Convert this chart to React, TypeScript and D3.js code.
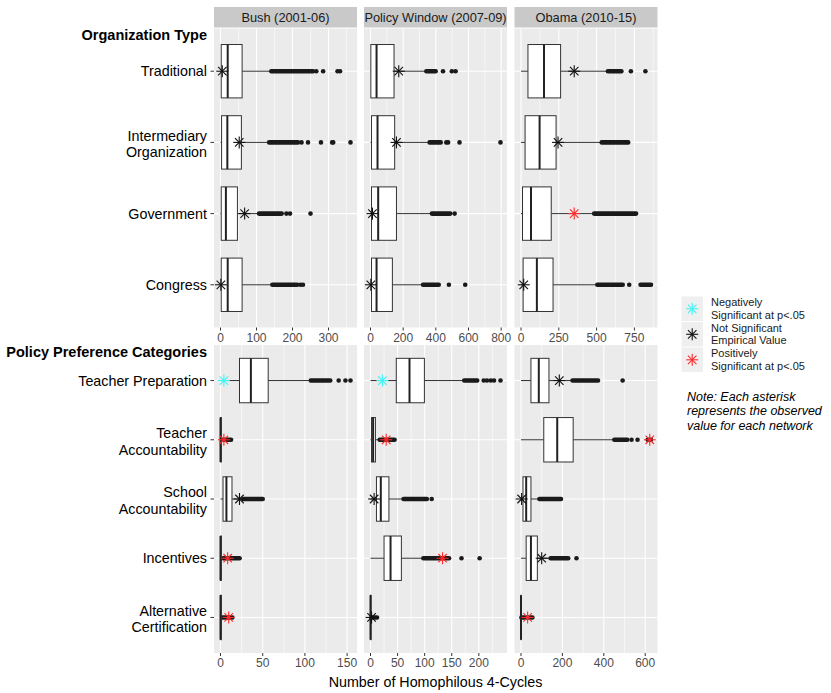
import React from 'react';
import * as d3 from 'd3';

// facet columns
const periods = ['Bush (2001-06)', 'Policy Window (2007-09)', 'Obama (2010-15)'];

// ---- top block: organization type ----
const orgTypes = ['Traditional', 'Intermediary\nOrganization', 'Government', 'Congress'];
// period -> category -> [lower whisker, q1, median, q3, upper whisker]
const orgBoxes = [
  [[0, 2, 20, 60, 141], [0, 3, 19, 58, 135], [0, 2, 15, 47, 107], [0, 2, 20, 60, 144]],
  [[0, 2, 37, 144, 342], [0, 6, 43, 148, 362], [0, 6, 47, 159, 376], [0, 6, 37, 134, 322]],
  [[0, 46, 152, 262, 573], [0, 27, 123, 232, 534], [0, 10, 66, 200, 484], [0, 14, 105, 212, 505]],
];
// dense outlier clusters (start, end)
const orgRuns = [
  [[[141, 257]], [[135, 215]], [[107, 170]], [[144, 213]]],
  [[[342, 399]], [[362, 430]], [[376, 488]], [[322, 418]]],
  [[[575, 664]], [[534, 709]], [[484, 761]], [[505, 673], [791, 860]]],
];
const orgDots = [
  [[266, 285, 325, 332], [225, 243, 279, 310, 313, 361], [183, 193, 250], [222, 229]],
  [[444, 498, 521], [464, 475, 545, 796], [515], [480, 580]],
  [[727, 823], [], [], [716]],
];
const orgObserved = [
  [5, 52, 67, 1],
  [173, 159, 12, 2],
  [352, 245, 352, 18],
];
// -1 negatively significant, 0 not significant, 1 positively significant
const orgSignif = [
  [0, 0, 0, 0],
  [0, 0, 0, 0],
  [0, 0, 1, 0],
];
const orgTicks = [[0, 100, 200, 300], [0, 200, 400, 600, 800], [0, 250, 500, 750]];

// ---- bottom block: policy preference categories ----
const policyCats = [
  'Teacher Preparation',
  'Teacher\nAccountability',
  'School\nAccountability',
  'Incentives',
  'Alternative\nCertification',
];
const polBoxes = [
  [[0, 22.5, 36, 56.5, 107], [0, 0, 0, 1, 1.5], [0, 3, 7, 13.6, 27], [0, 0, 0, 1, 2], [0, 0, 0, 1, 1.5]],
  [[0, 47.6, 72, 99.5, 172], [0, 1.8, 4.8, 9.1, 17], [0, 11, 19, 34, 61], [0, 25, 37, 57, 97], [0, 0, 0, 1, 2]],
  [[0, 48, 86, 135, 249], [0, 110, 175, 252, 451], [0, 9.6, 25, 48, 89], [0, 25, 48, 79, 143], [0, 0, 0, 1, 2]],
];
const polRuns = [
  [[[107, 130]], [[2, 12.5]], [[27, 50]], [[3, 22.6]], [[2, 14]]],
  [[[173, 197]], [[17, 44.5]], [[61, 104]], [[97.6, 145]], [[2, 12]]],
  [[[249, 372]], [[451, 513]], [[89, 193]], [[143, 228]], [[2, 55]]],
];
const polDots = [
  [[140, 148, 154], [], [], [], []],
  [[209, 215, 222, 228, 240], [], [113], [168, 201.5], []],
  [[491], [534, 563, 612, 620, 628], [], [268], []],
];
const polObserved = [
  [4, 4, 22.5, 8.5, 9.7],
  [22, 29, 6.7, 133, 2],
  [185, 622, 3, 100, 32],
];
const polSignif = [
  [-1, 1, 0, 1, 1],
  [-1, 1, 0, 1, 0],
  [0, 1, 0, 0, 1],
];
const polTicks = [[0, 50, 100, 150], [0, 50, 100, 150, 200], [0, 200, 400, 600]];

const legendItems = [
  {sig: -1, lines: ['Negatively', 'Significant at p<.05']},
  {sig: 0, lines: ['Not Significant', 'Empirical Value']},
  {sig: 1, lines: ['Positively', 'Significant at p<.05']},
];
const noteLines = ['Note: Each asterisk', 'represents the observed', 'value for each network'];

const FONT = '"Liberation Sans", Arial, Helvetica, sans-serif';
const sigColor = (s: number) => (s < 0 ? '#3ff5f5' : s > 0 ? '#ff2a2a' : '#111');

// layout
const panelX = [214, 364, 514.5];
const panelW = 143;
const stripTop = 7;
const stripH = 20.5;

const Star = ({x, y, color, r = 6}: {x: number; y: number; color: string; r?: number}) => {
  const d = r * Math.SQRT1_2;
  return (
    <g stroke={color} strokeWidth={1.1}>
      <line x1={x - r} x2={x + r} y1={y} y2={y} />
      <line x1={x} x2={x} y1={y - r} y2={y + r} />
      <line x1={x - d} x2={x + d} y1={y - d} y2={y + d} />
      <line x1={x - d} x2={x + d} y1={y + d} y2={y - d} />
    </g>
  );
};

interface BlockProps {
  cats: string[];
  boxes: number[][][];
  runs: number[][][][];
  dots: number[][][];
  observed: number[][];
  signif: number[][];
  ticks: number[][];
  top: number;
  height: number;
  header: string;
  strips: boolean;
}

const Block = ({cats, boxes, runs, dots, observed, signif, ticks, top, height, header, strips}: BlockProps) => {
  const n = cats.length;
  const step = height / (n - 1 + 1.2);
  const yPos = (i: number) => top + (0.6 + i) * step;
  const boxH = step * 0.75;

  return (
    <g>
      {/* header */}
      <text x={207} y={top + 11.5} textAnchor="end" fontWeight="bold" fontSize={14.5} fontFamily={FONT} fill="#000">
        {header}
      </text>
      {/* category labels + ticks */}
      {cats.map((c, i) => {
        const lines = c.split('\n');
        const y0 = yPos(i) - ((lines.length - 1) * 16.5) / 2 + 5;
        return (
          <g key={c}>
            <line x1={210.5} x2={214} y1={yPos(i)} y2={yPos(i)} stroke="#333" strokeWidth={1} />
            <text textAnchor="end" fontSize={14.3} fontFamily={FONT} fill="#000">
              {lines.map((l, k) => (
                <tspan key={k} x={207} y={y0 + k * 16.5 + (lines.length > 1 ? 1.5 : 0)}>
                  {l}
                </tspan>
              ))}
            </text>
          </g>
        );
      })}
      {periods.map((p, pi) => {
        const allVals = [
          ...boxes[pi].flat(),
          ...runs[pi].flat(2),
          ...dots[pi].flat(),
          ...observed[pi],
        ];
        const maxV = d3.max(allVals) as number;
        const x = d3
          .scaleLinear()
          .domain([-0.05 * maxV, 1.05 * maxV])
          .range([panelX[pi], panelX[pi] + panelW]);
        const major = ticks[pi];
        const st = major[1] - major[0];
        const minor = [major[0] - st / 2, ...major.map(t => t + st / 2)].filter(
          v => v >= x.domain()[0] && v <= x.domain()[1]
        );
        const bottom = top + height;
        return (
          <g key={p}>
            {strips && (
              <g>
                <rect x={panelX[pi]} y={stripTop} width={panelW} height={stripH} fill="#c9c9c9" />
                <text
                  x={panelX[pi] + panelW / 2}
                  y={stripTop + stripH / 2 + 4.5}
                  textAnchor="middle"
                  fontSize={12.8}
                  fontFamily={FONT}
                  fill="#1a1a1a"
                >
                  {p}
                </text>
              </g>
            )}
            <rect x={panelX[pi]} y={top} width={panelW} height={height} fill="#ebebeb" />
            {minor.map(v => (
              <line key={'m' + v} x1={x(v)} x2={x(v)} y1={top} y2={bottom} stroke="#fff" strokeWidth={0.55} />
            ))}
            {major.map(v => (
              <line key={'M' + v} x1={x(v)} x2={x(v)} y1={top} y2={bottom} stroke="#fff" strokeWidth={1.1} />
            ))}
            {cats.map((c, i) => (
              <line key={'h' + i} x1={panelX[pi]} x2={panelX[pi] + panelW} y1={yPos(i)} y2={yPos(i)} stroke="#fff" strokeWidth={1.1} />
            ))}
            {/* boxes */}
            {cats.map((c, i) => {
              const [lo, q1, med, q3, hi] = boxes[pi][i];
              const y = yPos(i);
              return (
                <g key={'b' + i}>
                  <line x1={x(lo)} x2={x(q1)} y1={y} y2={y} stroke="#333" strokeWidth={1} />
                  <line x1={x(q3)} x2={x(hi)} y1={y} y2={y} stroke="#333" strokeWidth={1} />
                  {runs[pi][i].map(([a, b], k) => (
                    <line key={k} x1={x(a)} x2={x(b)} y1={y} y2={y} stroke="#1a1a1a" strokeWidth={4.6} strokeLinecap="round" />
                  ))}
                  {dots[pi][i].map((v, k) => (
                    <circle key={k} cx={x(v)} cy={y} r={2.3} fill="#1a1a1a" />
                  ))}
                  <rect
                    x={x(q1)}
                    y={y - boxH / 2}
                    width={Math.max(0, x(q3) - x(q1))}
                    height={boxH}
                    fill="#fff"
                    stroke="#333"
                    strokeWidth={1}
                  />
                  <line x1={x(med)} x2={x(med)} y1={y - boxH / 2} y2={y + boxH / 2} stroke="#222" strokeWidth={2} />
                  <Star x={x(observed[pi][i])} y={y} color={sigColor(signif[pi][i])} />
                </g>
              );
            })}
            {/* x axis */}
            {major.map(v => (
              <g key={'t' + v}>
                <line x1={x(v)} x2={x(v)} y1={bottom} y2={bottom + 3} stroke="#333" strokeWidth={1} />
                <text x={x(v)} y={bottom + 14} textAnchor="middle" fontSize={12} fontFamily={FONT} fill="#4d4d4d">
                  {v}
                </text>
              </g>
            ))}
          </g>
        );
      })}
    </g>
  );
};

export default function App() {
  return (
    <div style={{position: 'absolute', left: 0, top: 0}}>
      <svg width={831} height={693} style={{display: 'block', background: '#fff'}}>
        <Block
          cats={orgTypes}
          boxes={orgBoxes}
          runs={orgRuns}
          dots={orgDots}
          observed={orgObserved}
          signif={orgSignif}
          ticks={orgTicks}
          top={28.5}
          height={299}
          header="Organization Type"
          strips={true}
        />
        <Block
          cats={policyCats}
          boxes={polBoxes}
          runs={polRuns}
          dots={polDots}
          observed={polObserved}
          signif={polSignif}
          ticks={polTicks}
          top={345}
          height={308}
          header="Policy Preference Categories"
          strips={false}
        />
        <text x={435.5} y={687} textAnchor="middle" fontSize={14.3} fontFamily={FONT} fill="#000">
          Number of Homophilous 4-Cycles
        </text>
        {/* legend */}
        {legendItems.map((it, i) => {
          const ky = 296.5 + i * 25.5;
          return (
            <g key={i}>
              <rect x={681.5} y={ky} width={21.5} height={24.5} fill="#efefef" />
              <Star x={692.2} y={ky + 12.3} color={sigColor(it.sig)} r={6} />
              <text fontSize={11} fontFamily={FONT} fill="#1a1a1a">
                {it.lines.map((l, k) => (
                  <tspan key={k} x={711} y={ky + 9.8 + k * 12.4}>
                    {l}
                  </tspan>
                ))}
              </text>
            </g>
          );
        })}
        <text fontSize={12.5} fontFamily={FONT} fontStyle="italic" fill="#000">
          {noteLines.map((l, k) => (
            <tspan key={k} x={687} y={400.5 + k * 14.7}>
              {l}
            </tspan>
          ))}
        </text>
      </svg>
    </div>
  );
}
